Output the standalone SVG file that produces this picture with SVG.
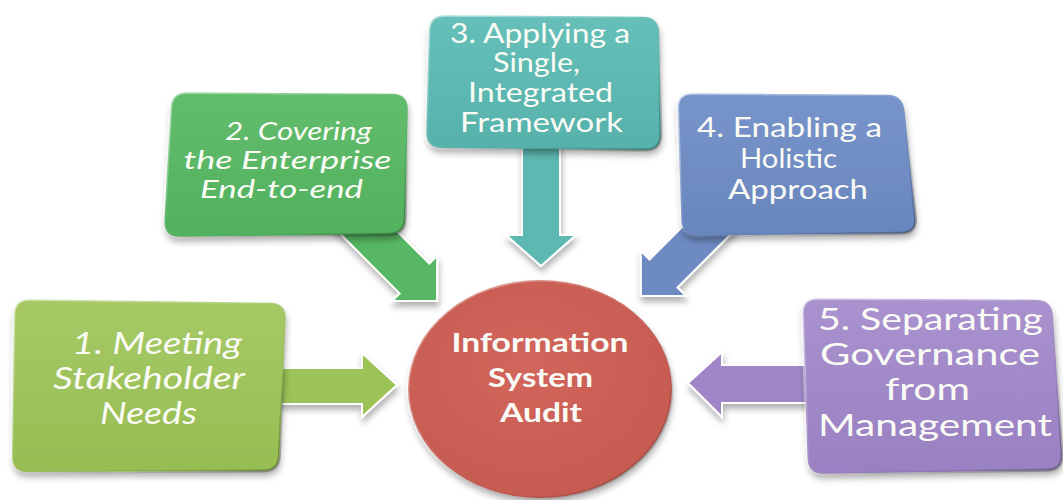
<svg xmlns="http://www.w3.org/2000/svg" width="1063" height="500" viewBox="0 0 1063 500">
  <defs>
    <style>
      .lbl { font-family: Lato, "Open Sans", "DejaVu Sans", sans-serif; fill: #fbfbf6; text-anchor: middle; }
      .it { font-style: italic; }
      .bold { font-weight: bold; }
      .box { stroke: url(#bevel); stroke-width: 3; filter: url(#shadow); }
      .arrow { stroke: #ffffff; stroke-width: 2; stroke-linejoin: miter; filter: url(#shadow); }
    </style>
    <filter id="shadow" x="-10%" y="-10%" width="125%" height="130%">
      <feDropShadow dx="1" dy="5" stdDeviation="3" flood-color="#000000" flood-opacity="0.3"/>
    </filter>
    <linearGradient id="bevel" x1="0" y1="0" x2="1" y2="1">
      <stop offset="0" stop-color="#ffffff" stop-opacity="0.55"/>
      <stop offset="0.45" stop-color="#ffffff" stop-opacity="0.1"/>
      <stop offset="0.7" stop-color="#000000" stop-opacity="0.05"/>
      <stop offset="1" stop-color="#000000" stop-opacity="0.3"/>
    </linearGradient>
    <linearGradient id="g1" x1="0" y1="0" x2="0" y2="1">
      <stop offset="0" stop-color="#a6c966"/>
      <stop offset="1" stop-color="#96bd52"/>
    </linearGradient>
    <linearGradient id="g2" x1="0" y1="0" x2="0" y2="1">
      <stop offset="0" stop-color="#62bd6c"/>
      <stop offset="1" stop-color="#52b15e"/>
    </linearGradient>
    <linearGradient id="g3" x1="0" y1="0" x2="0" y2="1">
      <stop offset="0" stop-color="#66bfb9"/>
      <stop offset="1" stop-color="#56b2ab"/>
    </linearGradient>
    <linearGradient id="g4" x1="0" y1="0" x2="0" y2="1">
      <stop offset="0" stop-color="#7895cb"/>
      <stop offset="1" stop-color="#6885bd"/>
    </linearGradient>
    <linearGradient id="g5" x1="0" y1="0" x2="0" y2="1">
      <stop offset="0" stop-color="#aa92cf"/>
      <stop offset="1" stop-color="#9980c2"/>
    </linearGradient>
    <radialGradient id="gc" cx="0.45" cy="0.4" r="0.65">
      <stop offset="0" stop-color="#d2665c"/>
      <stop offset="1" stop-color="#c55a50"/>
    </radialGradient>
  </defs>

  <!-- block arrows pointing at the centre -->
  <g id="connectors">
    <polygon class="arrow" fill="#9cc259" points="270,368 362,368 362,353 397,385 362,417 362,404 270,404"/>
    <polygon class="arrow" fill="#58b764" points="333.2,226.8 399.6,293.4 391.9,301.1 437.1,301.1 437.1,255.9 429.4,263.7 362.9,197.1"/>
    <polygon class="arrow" fill="#5cb8b1" points="522,140 522,235 506,235 541,266 576,235 560,235 560,140"/>
    <polygon class="arrow" fill="#6d8ac3" points="714.5,194.5 649.5,259.5 640.9,250.9 640.9,296.1 686.1,296.1 677.5,287.5 742.5,222.5"/>
    <polygon class="arrow" fill="#9f86c6" points="820,365 722,365 722,352 688,383 722,417 722,403 820,403"/>
  </g>

  <g id="node-1">
    <path class="box" fill="url(#g1)" d="M30,299.2 L270,302.8 Q286,303 285.6,319 L279.4,455 Q279,471 263,471 L28,472 Q12,472 12.2,456 L13.8,315 Q14,299 30,299.2 Z"/>
    <text class="lbl it" font-size="31"><tspan x="157" y="354" textLength="170" lengthAdjust="spacingAndGlyphs">1. Meeting</tspan><tspan x="149" y="389" textLength="192" lengthAdjust="spacingAndGlyphs">Stakeholder</tspan><tspan x="148.5" y="424" textLength="97" lengthAdjust="spacingAndGlyphs">Needs</tspan></text>
  </g>

  <g id="node-2">
    <path class="box" fill="url(#g2)" d="M187,92.2 L392,93.8 Q408,94 407.8,110 L405.2,218 Q405,234 389,234.2 L180,236.8 Q164,237 164.4,221 L170.6,108 Q171,92 187,92.2 Z"/>
    <text class="lbl it" font-size="25"><tspan x="298.5" y="140" textLength="147" lengthAdjust="spacingAndGlyphs">2. Covering</tspan><tspan x="287.5" y="169" textLength="208" lengthAdjust="spacingAndGlyphs">the Enterprise</tspan><tspan x="281.5" y="198" textLength="163" lengthAdjust="spacingAndGlyphs">End-to-end</tspan></text>
  </g>

  <g id="node-3">
    <path class="box" fill="url(#g3)" d="M445,15.2 L643,16.8 Q659,17 659.2,33 L660.8,134 Q661,150 645,149.9 L442,148.1 Q426,148 426.3,132 L428.7,31 Q429,15 445,15.2 Z"/>
    <text class="lbl" font-size="26"><tspan x="540" y="43" textLength="180" lengthAdjust="spacingAndGlyphs">3. Applying a</tspan><tspan x="536.5" y="72" textLength="87" lengthAdjust="spacingAndGlyphs">Single,</tspan><tspan x="540.5" y="102" textLength="145" lengthAdjust="spacingAndGlyphs">Integrated</tspan><tspan x="541.5" y="132" textLength="163" lengthAdjust="spacingAndGlyphs">Framework</tspan></text>
  </g>

  <g id="node-4">
    <path class="box" fill="url(#g4)" d="M693,93.2 L887,94.8 Q903,95 904.6,111 L915.4,217 Q917,233 901,233.2 L698,235.8 Q682,236 681.4,220 L677.6,109 Q677,93 693,93.2 Z"/>
    <text class="lbl" font-size="27"><tspan x="789.5" y="137" textLength="185" lengthAdjust="spacingAndGlyphs">4. Enabling a</tspan><tspan x="788.5" y="168" textLength="97" lengthAdjust="spacingAndGlyphs">Holistic</tspan><tspan x="798" y="199" textLength="140" lengthAdjust="spacingAndGlyphs">Approach</tspan></text>
  </g>

  <g id="node-5">
    <path class="box" fill="url(#g5)" d="M818,298.2 L1036,299.8 Q1052,300 1053,316 L1062,454 Q1063,470 1047,470.3 L824,473.7 Q808,474 807.6,458 L802.4,314 Q802,298 818,298.2 Z"/>
    <text class="lbl" font-size="30"><tspan x="930.5" y="330" textLength="225" lengthAdjust="spacingAndGlyphs">5. Separating</tspan><tspan x="930" y="365" textLength="220" lengthAdjust="spacingAndGlyphs">Governance</tspan><tspan x="927.5" y="400" textLength="85" lengthAdjust="spacingAndGlyphs">from</tspan><tspan x="935" y="436" textLength="234" lengthAdjust="spacingAndGlyphs">Management</tspan></text>
  </g>

  <g id="node-centre">
    <ellipse class="box" fill="url(#gc)" cx="540" cy="389" rx="132" ry="109"/>
    <text class="lbl bold" font-size="26"><tspan x="540" y="352" textLength="177" lengthAdjust="spacingAndGlyphs">Information</tspan><tspan x="540.5" y="387" textLength="105" lengthAdjust="spacingAndGlyphs">System</tspan><tspan x="541" y="422" textLength="82" lengthAdjust="spacingAndGlyphs">Audit</tspan></text>
  </g>
</svg>
